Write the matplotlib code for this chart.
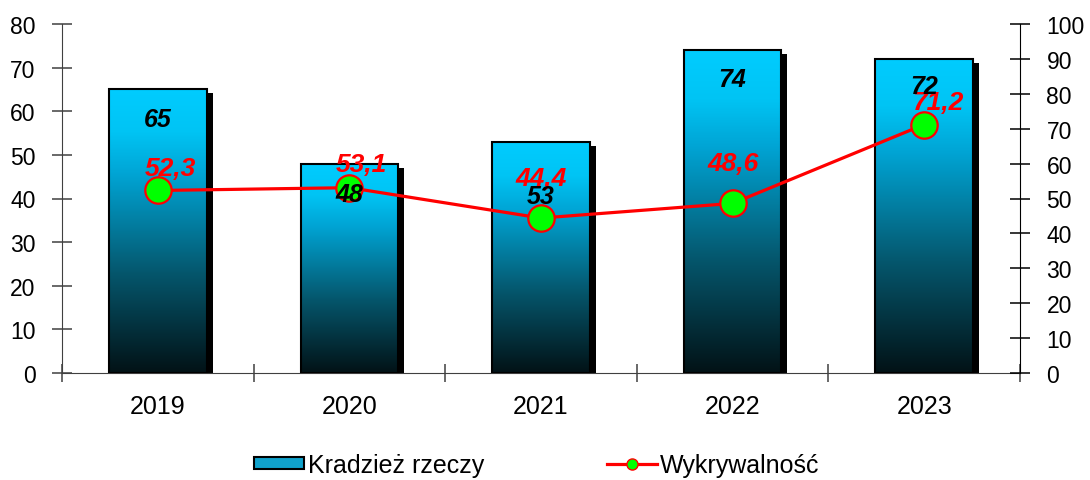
import numpy as np
import matplotlib
matplotlib.use('Agg')
import matplotlib.pyplot as plt
import matplotlib.transforms as mtransforms
from matplotlib.colors import LinearSegmentedColormap
from matplotlib.lines import Line2D
from matplotlib.patches import Rectangle

plt.rcParams['font.family'] = ['Liberation Sans', 'DejaVu Sans']

years = ['2019', '2020', '2021', '2022', '2023']
thefts = [65, 48, 53, 74, 72]
detection = [52.3, 53.1, 44.4, 48.6, 71.2]

# hand-placed label nudges (pixels), as in the source chart
bar_lbl_dy = [-18, -18, -42, -17, -15]
line_lbl_dx = [13, 12, 0, 0, 14]
line_lbl_dy = [22, 24, 40, 40, 23]

fig = plt.figure(figsize=(10.9, 4.81), dpi=100)
ax = fig.add_axes([62 / 1090, 1 - 374 / 481, (1020 - 62) / 1090, (374 - 25) / 481])
ax2 = ax.twinx()
px = 72 / fig.dpi  # points per pixel

cmap = LinearSegmentedColormap.from_list(
    'bar', [(0, '#021216'), (0.35, '#05566c'), (0.7, '#00a4d4'), (0.85, '#00c4f4'), (1, '#00ccff')])
x = np.arange(len(years))
w = 0.51

# shadow behind the bars
shadow = mtransforms.offset_copy(ax.transData, fig=fig, x=6, y=-4, units='dots')
ax.bar(x, thefts, w, color='black', transform=shadow, zorder=1)
bars = ax.bar(x, thefts, w, facecolor='none', edgecolor='black', linewidth=1.5, zorder=3)
grad = np.linspace(0, 1, 256).reshape(-1, 1)
for b in bars:
    x0, h = b.get_x(), b.get_height()
    im = ax.imshow(grad, extent=(x0, x0 + w, 0, h), origin='lower', aspect='auto',
                   cmap=cmap, zorder=2)
    im.set_clip_path(b)

ax.set_xlim(-0.5, len(years) - 0.5)
ax.set_ylim(0, 80)
ax.set_yticks(range(0, 81, 10))
ax2.set_ylim(0, 100)
ax2.set_yticks(range(0, 101, 10))

ax2.plot(x, detection, color='red', lw=2.3, marker='o', ms=19, mfc='#00ff00', mec='red',
         mew=1.6, zorder=3)

for i, v in enumerate(detection):
    ax2.annotate(f'{v:.1f}'.replace('.', ','), (i, v),
                 xytext=(line_lbl_dx[i] * px, line_lbl_dy[i] * px), textcoords='offset points',
                 ha='center', va='center', color='red', fontsize=19,
                 fontweight='bold', fontstyle='italic', zorder=6)
for i, v in enumerate(thefts):
    ax2.annotate(str(v), (i, v), xycoords=ax.transData,
                 xytext=(0, bar_lbl_dy[i] * px), textcoords='offset points',
                 ha='center', va='top', color='black', fontsize=18,
                 fontweight='bold', fontstyle='italic', zorder=7)

# axes styling
ax.spines['top'].set_visible(False)
ax.spines['right'].set_visible(False)
ax.spines['left'].set_color('#404040')
ax.spines['bottom'].set_color('#404040')
for s in ['top', 'left', 'bottom']:
    ax2.spines[s].set_visible(False)
ax.tick_params(axis='y', direction='inout', length=14, width=1.1, color='#404040',
               labelsize=16.5, pad=12)
ax2.tick_params(axis='y', direction='inout', length=14, width=1.1, color='black',
                labelsize=16.5, pad=12)
ax.set_xticks(x)
ax.set_xticklabels(years)
ax.set_xticks(np.arange(-0.5, len(years), 1), minor=True)
ax.tick_params(axis='x', which='major', length=0, labelsize=18, pad=15)
ax.tick_params(axis='x', which='minor', direction='inout', length=13, width=1.1, color='#404040')

handles = [Rectangle((0, 0), 1, 1, facecolor='#10a2cc', edgecolor='black', linewidth=1.5),
           Line2D([], [], color='red', lw=2.3, marker='o', ms=8, mfc='#00ff00', mec='red')]
fig.legend(handles, ['Kradzież rzeczy', 'Wykrywalność'], loc='center',
           bbox_to_anchor=(537 / 1090, 1 - 466 / 481), ncol=2, frameon=False, fontsize=18,
           columnspacing=4.9, handlelength=2.0, handleheight=0.4, handletextpad=0.15)

fig.savefig('out.png', dpi=100)
